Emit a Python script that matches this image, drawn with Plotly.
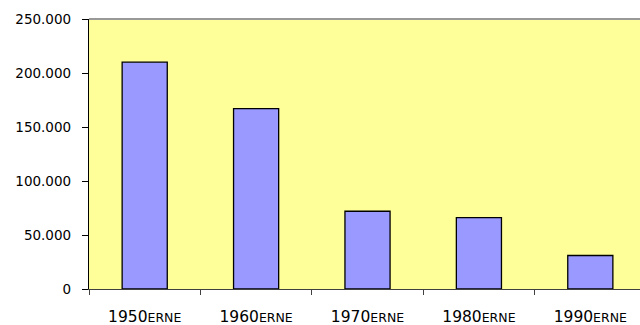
import plotly.graph_objects as go

categories = ["1950erne", "1960erne", "1970erne", "1980erne", "1990erne"]
values = [210000, 167000, 72000, 66000, 31000]
y_ticks = [0, 50000, 100000, 150000, 200000, 250000]

def smallcaps(label):
    num, suf = label[:4], label[4:]
    return f"{num}<span style='font-size:12.5px'>{suf.upper()}</span>"

tick_text = [smallcaps(c) for c in categories]

fig = go.Figure()
fig.add_trace(go.Bar(
    x=categories, y=values, width=0.405,
    marker=dict(color="#9999FF", line=dict(color="#000000", width=1.3)),
))

fig.update_layout(
    width=640, height=325,
    margin=dict(l=89, r=0, t=19, b=36),
    paper_bgcolor="white", plot_bgcolor="#FFFF99",
    separators=",.",
    showlegend=False,
    font=dict(family="DejaVu Sans", size=14, color="#000000"),
    xaxis=dict(
        type="category", range=[-0.5, 4.446], automargin=False,
        tickson="boundaries", ticks="outside", ticklen=5, tickcolor="#404040",
        tickvals=categories, ticktext=tick_text,
        tickfont=dict(size=15.5),
        showline=True, linecolor="#404040", linewidth=1,
        showgrid=False, ticklabelstandoff=13,
    ),
    yaxis=dict(
        range=[0, 250000], tickvals=y_ticks, tickformat=",d", automargin=False,
        ticks="outside", ticklen=6, tickcolor="#000000",
        tickfont=dict(size=13.5),
        showline=True, linecolor="#000000", linewidth=1.3,
        showgrid=False, zeroline=False, ticklabelstandoff=8,
    ),
    shapes=[dict(type="line", xref="paper", yref="paper", x0=0, x1=1, y0=1, y1=1,
                 line=dict(color="#999999", width=2))],
)

fig.write_html(
    "out.html",
    config={"displayModeBar": False},
    post_script="document.body.style.margin='0';document.body.style.overflow='hidden';",
)
